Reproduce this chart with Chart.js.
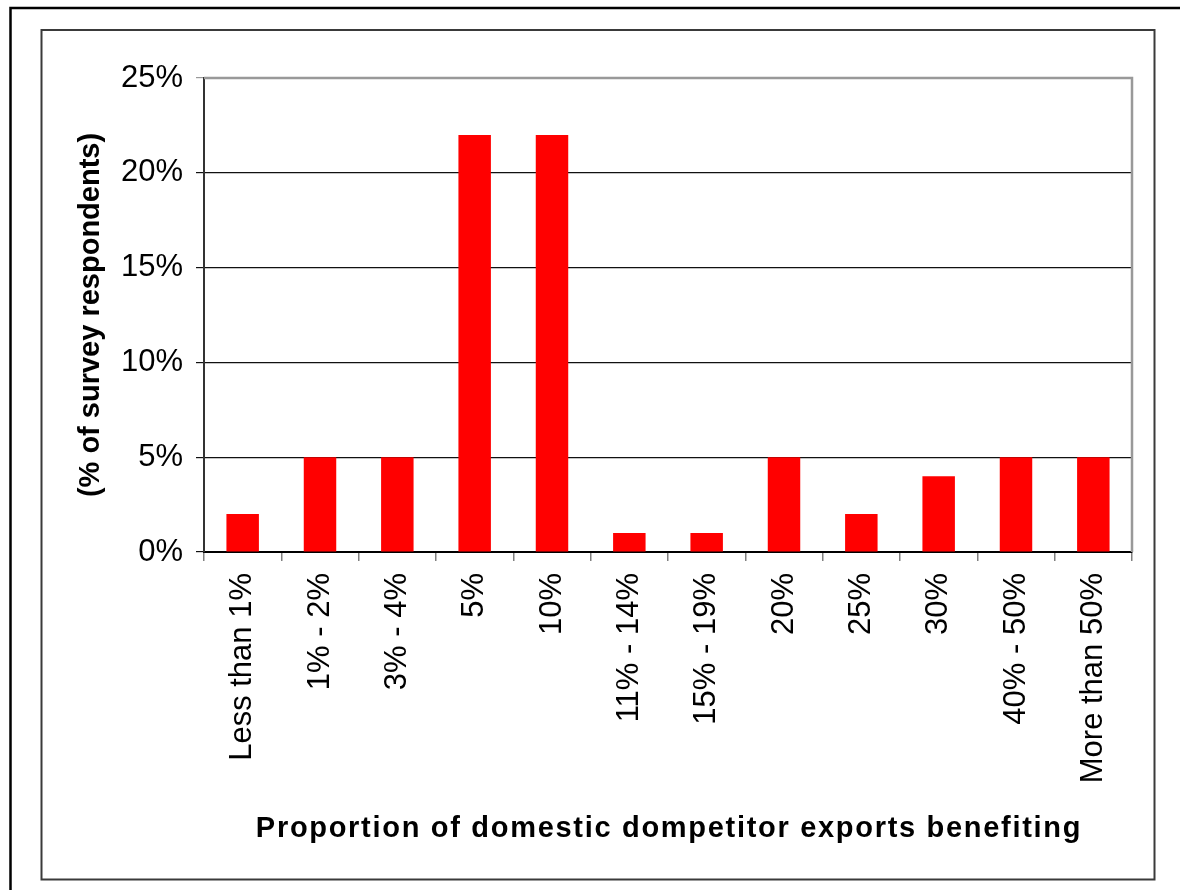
<!DOCTYPE html>
<html>
<head>
<meta charset="utf-8">
<title>Proportion of domestic competitor exports benefiting</title>
<script src="https://cdn.jsdelivr.net/npm/chart.js@4.4.1/dist/chart.umd.min.js"></script>
<style>
  html, body { margin: 0; padding: 0; background: #fff; }
  #wrap { width: 1180px; height: 890px; position: relative; }
</style>
</head>
<body>
<div id="wrap"><canvas id="surveyChart"></canvas></div>
<script>
// Survey answers by band
const categories = ['Less than 1%', '1% - 2%', '3% - 4%', '5%', '10%', '11% - 14%',
                    '15% - 19%', '20%', '25%', '30%', '40% - 50%', 'More than 50%'];
const respondents = [2, 5, 5, 22, 22, 1, 1, 5, 2, 4, 5, 5];
const yTicks = [0, 5, 10, 15, 20, 25];

const xTitleText = 'Proportion of domestic dompetitor exports benefiting';
const yTitleText = '(% of survey respondents)';

// Frames round the chart, gray plot border, and the spaced x title
const framePlugin = {
    id: 'frame',
    beforeDraw(chart) {
        const ctx = chart.ctx;
        ctx.save();
        ctx.fillStyle = '#fff';
        ctx.fillRect(0, 0, chart.width, chart.height);
        // outer black frame (runs off the right and bottom)
        ctx.strokeStyle = '#000';
        ctx.lineWidth = 2.5;
        ctx.beginPath();
        ctx.moveTo(chart.width + 5, 8);
        ctx.lineTo(10.5, 8);
        ctx.lineTo(10.5, chart.height + 5);
        ctx.stroke();
        // inner frame
        ctx.strokeStyle = '#3a3a3a';
        ctx.lineWidth = 2;
        ctx.strokeRect(41.5, 30, 1113, 849.5);
        ctx.restore();
    },
    afterDraw(chart) {
        const ctx = chart.ctx;
        const area = chart.chartArea;
        ctx.save();
        ctx.strokeStyle = '#999';
        ctx.lineWidth = 2.5;
        ctx.beginPath();
        ctx.moveTo(area.left, area.top);
        ctx.lineTo(area.right, area.top);
        ctx.lineTo(area.right, area.bottom);
        ctx.stroke();

        ctx.fillStyle = '#000';
        ctx.font = 'bold 29px "Liberation Sans", Arial, sans-serif';
        ctx.letterSpacing = '1.7px';
        ctx.textAlign = 'center';
        ctx.textBaseline = 'middle';
        ctx.fillText(xTitleText, (area.left + area.right) / 2 + 1, 829);
        ctx.restore();
    }
};

const ctx = document.getElementById('surveyChart').getContext('2d');
new Chart(ctx, {
    type: 'bar',
    data: {
        labels: categories,
        datasets: [{
            data: respondents,
            backgroundColor: '#ff0000',
            borderWidth: 0,
            barPercentage: 0.42,
            categoryPercentage: 1.0
        }]
    },
    options: {
        responsive: true,
        maintainAspectRatio: false,
        animation: false,
        layout: { padding: { top: 78, right: 48, left: 0, bottom: 0 } },
        plugins: {
            legend: { display: false },
            tooltip: { enabled: false }
        },
        scales: {
            x: {
                afterFit(scale) { scale.height = 338; },
                grid: {
                    offset: true,
                    drawOnChartArea: false,
                    tickLength: 9,
                    color: '#808080',
                    lineWidth: 1.5
                },
                border: { color: '#000', width: 2 },
                ticks: {
                    minRotation: 90,
                    maxRotation: 90,
                    autoSkip: false,
                    padding: 12,
                    color: '#000',
                    font: { family: '"Liberation Sans", Arial, sans-serif', size: 31 }
                }
            },
            y: {
                min: 0,
                max: 25,
                afterFit(scale) { scale.width = 204; },
                afterBuildTicks(scale) { scale.ticks = yTicks.map(v => ({ value: v })); },
                grid: {
                    color: c => c.tick && c.tick.value === 25 ? '#999' : '#111',
                    lineWidth: 1.2,
                    tickLength: 8
                },
                border: { color: '#333', width: 2 },
                ticks: {
                    padding: 13,
                    color: '#000',
                    font: { family: '"Liberation Sans", Arial, sans-serif', size: 31 },
                    callback: v => v + '%'
                },
                title: {
                    display: true,
                    text: yTitleText,
                    color: '#000',
                    font: { family: '"Liberation Sans", Arial, sans-serif', size: 29, weight: 'bold' },
                    padding: { top: 74, bottom: 0 }
                }
            }
        }
    },
    plugins: [framePlugin]
});
</script>
</body>
</html>
